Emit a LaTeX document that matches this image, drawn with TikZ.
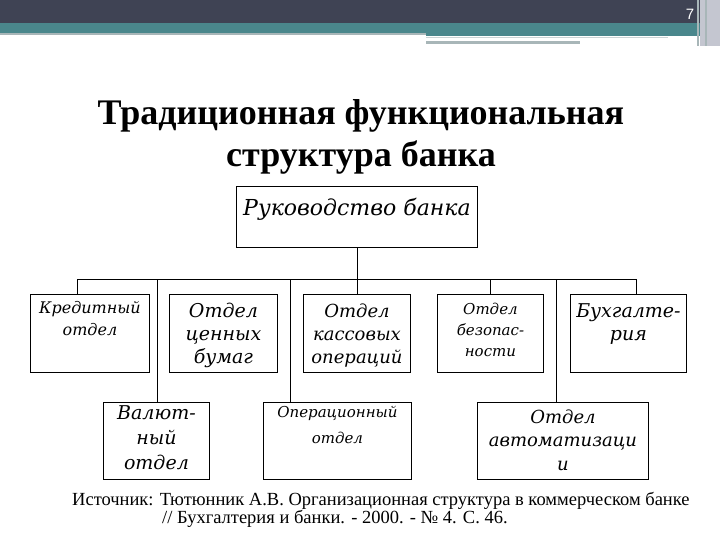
\documentclass[tikz,border=0pt]{standalone}
\usepackage{fontspec}
\setmainfont{Liberation Serif}
\newfontfamily\boxfont{DejaVu Serif}
\newfontfamily\numfont{Liberation Sans}
\usetikzlibrary{calc}
\definecolor{hdark}{HTML}{3F4354}
\definecolor{hteal}{HTML}{4A878C}
\definecolor{hgray}{HTML}{A8B6B8}
\definecolor{hlight}{HTML}{C4C6D0}
% #1 width, #2 height, #3 top pad, #4 size, #5 lead, #6 text
\newcommand{\bxt}[6]{\parbox[c][#2pt][t]{#1pt}{\centering\fontsize{#4pt}{#5pt}\selectfont\vspace*{#3pt}\rule{0pt}{0.8em}#6\par}}
\begin{document}
\begin{tikzpicture}[x=1pt,y=-1pt,
  orgbox/.style={draw, line width=0.9pt, inner sep=0pt, anchor=north west, font=\boxfont\itshape},
  conn/.style={line width=0.9pt}]
\useasboundingbox (0,0) rectangle (720,540);
\fill[white] (0,0) rectangle (720,540);
% header band
\fill[hdark] (0,0) rectangle (700,23);
\fill[hteal] (0,23) rectangle (700,33);
\fill[hgray] (0,33) rectangle (426,35.5);
\fill[hteal] (426,33) rectangle (700,36);
\fill[hgray!60] (426,37) rectangle (668,38.2);
\fill[hgray] (426,41.5) rectangle (580,44.5);
\fill[hlight] (700,0) rectangle (720,46);
\fill[hgray] (697,0) rectangle (699,46);
\fill[hgray] (705,0) rectangle (707,46);
\node[text=white, font=\numfont\fontsize{15pt}{16pt}\selectfont] (pnum) at (690,14) {7};
% title
\node[font=\bfseries\fontsize{36pt}{42pt}\selectfont, align=center] (title) at (361,137)
  {Традиционная функциональная\\структура банка};
% boxes
\node[orgbox] (ruk)  at (236,186) {\bxt{241}{61}{11}{22}{26}{Руководство банка}};
\node[orgbox] (kred) at (30,294)  {\bxt{119}{78}{6}{16}{22}{Кредитный\\отдел}};
\node[orgbox] (cen)  at (169,294) {\bxt{108}{78}{8}{19}{23}{Отдел\\ценных\\бумаг}};
\node[orgbox] (kas)  at (303,294) {\bxt{107}{78}{8.5}{18}{23}{Отдел\\кассовых\\операций}};
\node[orgbox] (bez)  at (437,294) {\bxt{106}{78}{8}{15}{21}{Отдел\\безопас-\\ности}};
\node[orgbox] (buh)  at (570,294) {\bxt{116}{78}{8}{19}{23}{Бухгалте-\\рия}};
\node[orgbox] (val)  at (103,402) {\bxt{106}{77}{2}{19}{25}{Валют-\\ный\\отдел}};
\node[orgbox] (oper) at (263,402) {\bxt{148}{77}{3}{15}{26}{Операционный\\отдел}};
\node[orgbox] (avt)  at (477,402) {\bxt{171}{77}{6.5}{18}{23.5}{Отдел\\автоматизаци\\и}};
% connectors
\coordinate (hl) at (77,279);
\coordinate (hr) at (636,279);
\draw[conn] (hl) -- (hr);
\draw[conn] (ruk.south) -- (kas.north);
\draw[conn] (hl) -- (hl |- kred.north);
\draw[conn] (157,279) -- (157,0 |- val.north);
\draw[conn] (290,279) -- (290,0 |- oper.north);
\draw[conn] (bez.north |- hl) -- (bez.north);
\draw[conn] (556,279) -- (556,0 |- avt.north);
\draw[conn] (hr) -- (hr |- buh.north);
% source
\node[anchor=north west, inner sep=0pt, align=left, font=\fontsize{18.5pt}{18pt}\selectfont] (src) at (72,492)
  {Источник: Тютюнник А.В. Организационная структура в коммерческом банке\\\hspace*{90pt}// Бухгалтерия и банки. - 2000. - № 4. С. 46.};
\end{tikzpicture}
\end{document}
